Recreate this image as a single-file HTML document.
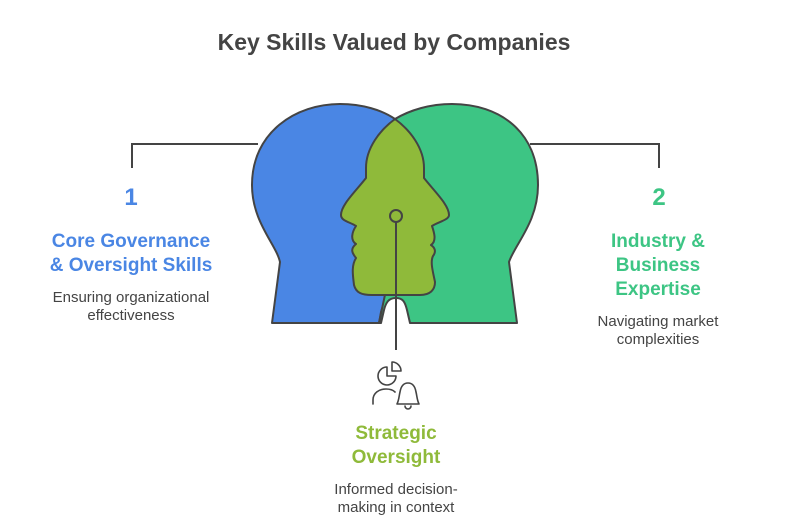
<!DOCTYPE html>
<html><head><meta charset="utf-8"><style>
html,body{margin:0;padding:0;background:#fff;width:792px;height:528px;overflow:hidden}
svg text{font-family:"Liberation Sans",Arial,sans-serif}
</style></head><body>
<svg width="792" height="528" viewBox="0 0 792 528" xmlns="http://www.w3.org/2000/svg">
<text x="394" y="50" text-anchor="middle" font-size="23" font-weight="bold" fill="#444">Key Skills Valued by Companies</text>
<g stroke="#444" stroke-width="2" fill="none">
<path d="M132 168 V144 H258"/>
<path d="M659 168 V144 H530"/>
</g>
<path d="M272 323 L280 262 C276 244 252 222 252 185 C252 132 296 104 340 104 C362 104 382 110 395 119 C378 135 372 150 372 180 L386 290 C386 298 383 305 381 312 L379 323 Z" fill="#4a86e4" stroke="#444" stroke-width="2" stroke-linejoin="round"/>
<path d="M395 119 C410 110 430 104 452 104 C500 104 538 132 538 185 C538 222 515 244 509 262 L517 323 L410 323 L407 310 C405 302 403 298 396 298 C389 298 386 302 384 310 L381 323 L379 323 L386 290 L400 180 C400 150 390 130 395 119 Z" fill="#3dc584" stroke="#444" stroke-width="2" stroke-linejoin="round"/>
<path d="M395 119 C380 130 366 148 366 168 L366 178 C355 192 341 205 341 215 C341 221 350 222 356 226 C352 232 350 240 356 244 C350 249 352 253 356 258 C351 266 353 276 354 285 C356 293 362 295 372 295 L420 295 C430 295 435 290 435 282 C433 272 430 262 433 256 C437 251 434 247 431 245 C437 241 434 232 432 226 C438 222 449 220 449 215 C449 205 435 192 424 178 L424 168 C424 148 410 130 395 119 Z" fill="#8fba3a" stroke="#444" stroke-width="2" stroke-linejoin="round"/>
<circle cx="396" cy="216" r="6" fill="#8fba3a" stroke="#444" stroke-width="2"/>
<line x1="396" y1="222" x2="396" y2="350" stroke="#444" stroke-width="2"/>
<g stroke="#444" stroke-width="1.6" fill="none" stroke-linecap="round" stroke-linejoin="round">
<path d="M387 367 A9 9 0 1 0 396 376 L387 376 Z"/>
<path d="M392 362 A9 9 0 0 1 401 371 L392 371 Z"/>
<path d="M373 404 V400 C373 393 379 389 386 389 C390 389 393 390 395 392"/>
<path d="M397 404 C399 400 399 396 400 392 C401 386 404 383 408 383 C412 383 415 386 416 392 C417 396 417 400 419 404 Z"/>
<path d="M405 406 A3 3 0 0 0 411 406"/>
</g>
<text x="131" y="205" text-anchor="middle" font-size="24" font-weight="bold" fill="#4a86e4">1</text>
<text x="131" y="247" text-anchor="middle" font-size="19" font-weight="bold" fill="#4a86e4">Core Governance</text>
<text x="131" y="271" text-anchor="middle" font-size="19" font-weight="bold" fill="#4a86e4">&amp; Oversight Skills</text>
<text x="131" y="302" text-anchor="middle" font-size="15" fill="#444">Ensuring organizational</text>
<text x="131" y="320" text-anchor="middle" font-size="15" fill="#444">effectiveness</text>
<text x="659" y="205" text-anchor="middle" font-size="24" font-weight="bold" fill="#3dc584">2</text>
<text x="658" y="247" text-anchor="middle" font-size="19" font-weight="bold" fill="#3dc584">Industry &amp;</text>
<text x="658" y="271" text-anchor="middle" font-size="19" font-weight="bold" fill="#3dc584">Business</text>
<text x="658" y="295" text-anchor="middle" font-size="19" font-weight="bold" fill="#3dc584">Expertise</text>
<text x="658" y="326" text-anchor="middle" font-size="15" fill="#444">Navigating market</text>
<text x="658" y="344" text-anchor="middle" font-size="15" fill="#444">complexities</text>
<text x="396" y="439" text-anchor="middle" font-size="19" font-weight="bold" fill="#8fba3a">Strategic</text>
<text x="396" y="463" text-anchor="middle" font-size="19" font-weight="bold" fill="#8fba3a">Oversight</text>
<text x="396" y="494" text-anchor="middle" font-size="15" fill="#444">Informed decision-</text>
<text x="396" y="512" text-anchor="middle" font-size="15" fill="#444">making in context</text>
</svg>
</body></html>
